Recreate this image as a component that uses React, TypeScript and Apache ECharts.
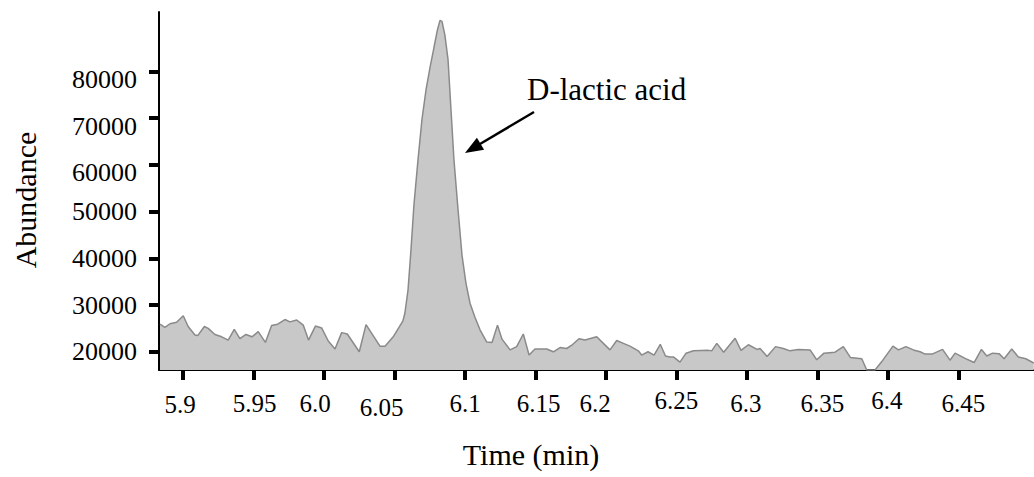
import React, { useEffect, useRef } from "react";
import * as echarts from "echarts";

// Retention time (min)
const times = [
  5.8835, 5.887, 5.8906, 5.8953, 5.9, 5.9035, 5.9083, 5.9104, 5.915, 5.9177,
  5.9225, 5.9273, 5.9319, 5.9362, 5.9402, 5.9445, 5.9488, 5.9532, 5.9583, 5.9627,
  5.967, 5.9722, 5.9757, 5.9805, 5.9852, 5.9889, 5.9938, 5.9982, 6.0029, 6.0077,
  6.0124, 6.0164, 6.0249, 6.0297, 6.0396, 6.0432, 6.049, 6.0559, 6.0573, 6.0595,
  6.0616, 6.0637, 6.0666, 6.0694, 6.0723, 6.0751, 6.0779, 6.0804, 6.0822, 6.0836,
  6.0857, 6.0879, 6.09, 6.0921, 6.095, 6.0978, 6.1006, 6.1035, 6.107, 6.1106,
  6.1153, 6.1191, 6.123, 6.1262, 6.1319, 6.1366, 6.1413, 6.1454, 6.1496, 6.1579,
  6.1626, 6.1674, 6.1721, 6.1757, 6.1808, 6.1851, 6.1934, 6.1981, 6.2028, 6.2076,
  6.2123, 6.217, 6.2229, 6.2253, 6.2298, 6.2341, 6.2385, 6.2422, 6.2454, 6.2478,
  6.2525, 6.2568, 6.262, 6.2726, 6.275, 6.2786, 6.2835, 6.2916, 6.2958, 6.301,
  6.3072, 6.3093, 6.3143, 6.3203, 6.3258, 6.3306, 6.3365, 6.3448, 6.3495, 6.3547,
  6.3625, 6.3684, 6.3734, 6.3815, 6.385, 6.3909, 6.3957, 6.4036, 6.4075, 6.4128,
  6.4181, 6.4229, 6.4264, 6.4314, 6.4388, 6.4441, 6.4477, 6.4548, 6.4612, 6.4664,
  6.4702, 6.4743, 6.4789, 6.4825, 6.4879, 6.4926, 6.4979, 6.5035,
];

// Abundance
const abundance = [
  25900, 25200, 26000, 26300, 27700, 25400, 23600, 23500, 25400, 25000,
  23700, 23200, 22500, 24800, 22800, 23700, 23200, 24300, 22000, 25600,
  25900, 26900, 26400, 26800, 25700, 22500, 25500, 25100, 22300, 20600,
  24100, 23800, 20000, 25800, 21200, 21200, 23200, 26600, 28300, 33200,
  41800, 51400, 61100, 69700, 76100, 80800, 85100, 88900, 90900, 90700,
  87700, 82500, 71800, 61100, 50400, 40700, 34700, 30400, 27400, 24700,
  22100, 22000, 25700, 22700, 20400, 21100, 23800, 19300, 20600, 20600,
  20000, 20900, 20700, 21400, 22800, 22500, 23200, 21800, 20400, 22400,
  21800, 21200, 20200, 19300, 20000, 19300, 21600, 19100, 18900, 18900,
  17800, 19700, 20200, 20300, 20200, 21800, 19900, 22900, 20300, 21500,
  20500, 20700, 19000, 21100, 20700, 20200, 20500, 20400, 18300, 19700,
  19900, 21100, 18800, 18500, 16100, 16100, 17900, 21200, 20400, 21100,
  20400, 20000, 19500, 19500, 20500, 18200, 19700, 18600, 17700, 20500,
  19100, 19700, 19600, 18500, 20600, 18900, 18500, 17600,
];

const xTickValues = [5.9, 5.95, 6.0, 6.05, 6.1, 6.15, 6.2, 6.25, 6.3, 6.35, 6.4, 6.45];
const xTickLabels = ["5.9", "5.95", "6.0", "6.05", "6.1", "6.15", "6.2", "6.25", "6.3", "6.35", "6.4", "6.45"];
const yTickValues = [20000, 30000, 40000, 50000, 60000, 70000, 80000];
const yTickLabels = ["20000", "30000", "40000", "50000", "60000", "70000", "80000"];

const xAxisTitle = "Time (min)";
const yAxisTitle = "Abundance";
const peakLabel = "D-lactic acid";

// label placement quirks of the original figure (styles, [dx, dy] in px)
const xLabelShift = [
  [-3, 1], [1, 0], [-9, 0], [-13, 4], [0, 0], [3, 0],
  [-11, 0], [0, -3], [-1, 0], [5, 0], [-1, -3], [5, 0],
];
const yLabelShift = [0, 0, 0, 0, 8, 8, 8];

const FONT = '"Liberation Serif", "Times New Roman", serif';

function pad(dx: number, dy: number) {
  return [
    dy > 0 ? 2 * dy : 0,
    dx < 0 ? -2 * dx : 0,
    dy < 0 ? -2 * dy : 0,
    dx > 0 ? 2 * dx : 0,
  ];
}

export default function App() {
  const ref = useRef<HTMLDivElement>(null);

  useEffect(() => {
    if (!ref.current) return;
    const chart = echarts.init(ref.current, null, { renderer: "svg" });

    const xRich: Record<string, any> = {};
    xTickLabels.forEach((_, i) => {
      xRich["x" + i] = {
        fontSize: 25,
        fontFamily: FONT,
        color: "#000",
        padding: pad(xLabelShift[i][0], xLabelShift[i][1]),
      };
    });
    const yRich: Record<string, any> = {};
    yTickLabels.forEach((_, i) => {
      yRich["y" + i] = {
        fontSize: 26,
        fontFamily: FONT,
        color: "#000",
        padding: pad(0, yLabelShift[i]),
      };
    });

    const findIdx = (arr: number[], v: number) =>
      arr.findIndex((a) => Math.abs(a - v) < 1e-6 * Math.max(1, Math.abs(a)));

    chart.setOption({
      animation: false,
      backgroundColor: "#ffffff",
      grid: {
        left: 159,
        right: 0,
        top: 12,
        bottom: 107,
        containLabel: false,
        outerBoundsMode: "none",
      },
      xAxis: {
        type: "value",
        min: 5.8828,
        max: 6.5037,
        axisLine: { show: true, onZero: false, lineStyle: { color: "#000", width: 2 } },
        axisTick: {
          show: true,
          length: 10,
          customValues: xTickValues,
          lineStyle: { color: "#000", width: 4 },
        },
        axisLabel: {
          customValues: xTickValues,
          margin: 33,
          verticalAlign: "middle",
          color: "#000",
          fontFamily: FONT,
          fontSize: 25,
          formatter: (v: number) => {
            const i = findIdx(xTickValues, v);
            return i < 0 ? "" : `{x${i}|${xTickLabels[i]}}`;
          },
          rich: xRich,
        },
        splitLine: { show: false },
      },
      yAxis: {
        type: "value",
        min: 16100,
        max: 92700,
        axisLine: { show: true, onZero: false, lineStyle: { color: "#000", width: 2 } },
        axisTick: {
          show: true,
          length: 10,
          customValues: yTickValues,
          lineStyle: { color: "#000", width: 4 },
        },
        axisLabel: {
          customValues: yTickValues,
          margin: 22,
          color: "#000",
          fontFamily: FONT,
          fontSize: 26,
          formatter: (v: number) => {
            const i = findIdx(yTickValues, v);
            return i < 0 ? "" : `{y${i}|${yTickLabels[i]}}`;
          },
          rich: yRich,
        },
        splitLine: { show: false },
      },
      series: [
        {
          type: "line",
          data: times.map((t, i) => [t, abundance[i]]),
          symbol: "none",
          showSymbol: false,
          clip: true,
          lineStyle: { color: "#8a8a8a", width: 1.5 },
          areaStyle: { color: "#c8c8c8", opacity: 1, origin: "start" },
          silent: true,
        },
      ],
      graphic: [
        {
          type: "text",
          x: 25,
          y: 200,
          rotation: Math.PI / 2,
          style: {
            text: yAxisTitle,
            font: `30px ${FONT}`,
            fill: "#000",
            textAlign: "center",
            textVerticalAlign: "middle",
          },
        },
        {
          type: "text",
          x: 531,
          y: 454,
          style: {
            text: xAxisTitle,
            font: `30px ${FONT}`,
            fill: "#000",
            textAlign: "center",
            textVerticalAlign: "middle",
          },
        },
        {
          type: "text",
          x: 527,
          y: 89,
          style: {
            text: peakLabel,
            font: `31px ${FONT}`,
            fill: "#000",
            textAlign: "left",
            textVerticalAlign: "middle",
          },
        },
        {
          type: "line",
          shape: { x1: 534, y1: 112, x2: 480, y2: 144 },
          style: { stroke: "#000", lineWidth: 2.5 },
        },
        {
          type: "polygon",
          shape: { points: [[465, 153], [484.1, 149.8], [476.9, 137.8]] },
          style: { fill: "#000" },
        },
      ],
    });

    return () => chart.dispose();
  }, []);

  return (
    <div
      ref={ref}
      style={{ position: "absolute", left: 0, top: 0, width: 1034, height: 477, background: "#fff" }}
    />
  );
}
